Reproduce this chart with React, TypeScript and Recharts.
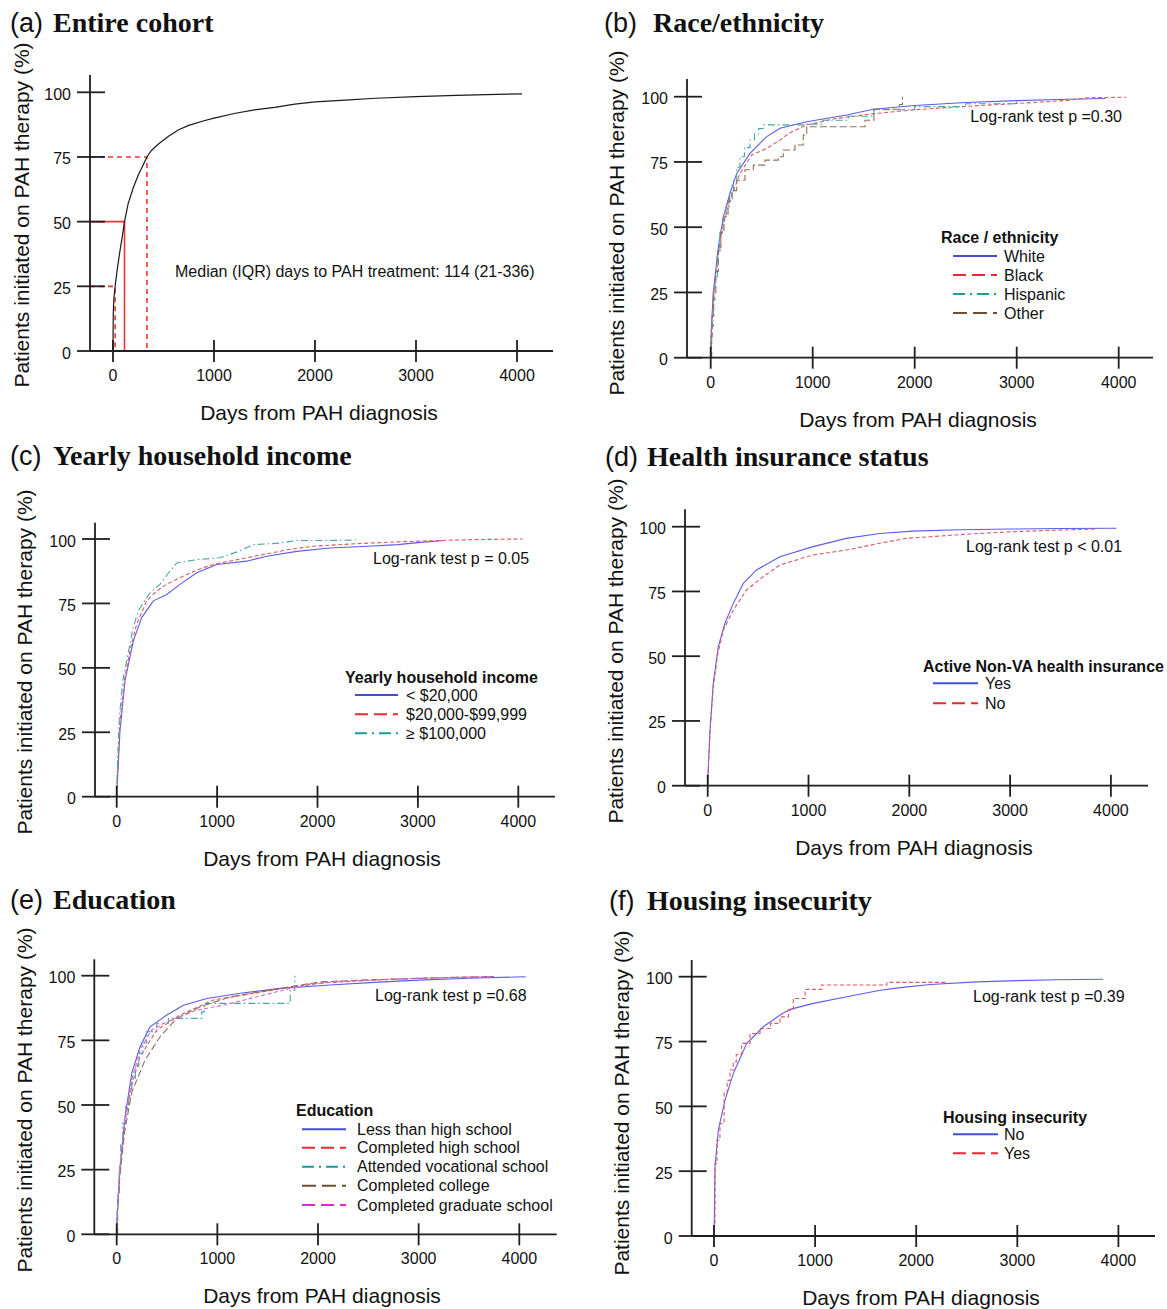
import React from 'react';
import { LineChart, Line, XAxis, YAxis } from 'recharts';

const PAGE_W = 1167;
const PAGE_H = 1309;
const SANS = "'Liberation Sans', Arial, Helvetica, sans-serif";
const SERIF = "'Liberation Serif', 'Times New Roman', serif";

// ---------- data ----------
const xTicks = [0, 1000, 2000, 3000, 4000];
const yTicks = [0, 25, 50, 75, 100];

// (a) entire cohort
const cohortDays = [0, 1, 3, 8, 21, 40, 70, 95, 114, 150, 200, 250, 300, 336, 380, 450, 550, 650, 750, 900, 1000, 1200, 1400, 1600, 1800, 2000, 2300, 2600, 3000, 3400, 3800, 4050];
const cohortPct = [0, 8, 15, 20, 25, 31, 39, 45, 50, 57, 63, 68, 72, 75, 77.5, 80, 83, 85.5, 87.2, 89, 90, 91.8, 93.2, 94.2, 95.4, 96.3, 97, 97.7, 98.3, 98.8, 99.2, 99.4];
const quartilePct = [25, 50, 75];
const quartileDays = [21, 114, 336];

// (b) race / ethnicity
const whiteDays = [0, 5, 25, 75, 124, 189, 255, 385, 549, 680, 941, 1333, 1594, 2000, 2500, 3000, 3500, 3870];
const whitePct = [0, 10, 25, 42.5, 54, 63, 70.6, 78.3, 84.7, 87.9, 90.4, 93, 95.2, 96.6, 97.8, 98.5, 99, 99.3];
const blackDays = [0, 5, 25, 75, 124, 189, 287, 402, 549, 680, 777, 941, 1235, 1600, 2000, 2500, 3000, 3500, 3700, 4070];
const blackPct = [0, 9, 23, 40, 51, 60.4, 70.6, 77.7, 80.2, 83.4, 86.2, 89.2, 91.7, 93.5, 95, 96.3, 97.4, 98.6, 99.6, 99.8];
const hispanicDays = [0, 10, 25, 40, 65, 90, 120, 150, 185, 222, 255, 287, 330, 385, 430, 470, 516, 940, 1100, 1350, 1600, 2000, 2500, 3000];
const hispanicPct = [0, 12, 22, 30, 40, 48, 54, 58, 63, 68, 73, 77, 80.5, 83.4, 85.8, 87.8, 89.2, 89.5, 91, 92.5, 95, 96.2, 97.3, 98.5];
const otherDays = [0, 5, 15, 30, 50, 75, 100, 130, 170, 210, 255, 336, 418, 532, 663, 712, 826, 908, 941, 1513, 1600, 1850, 1880];
const otherPct = [0, 8, 16, 25, 33, 41, 48, 54, 60, 64, 68, 72, 73.8, 75.7, 77, 79.6, 81.5, 85.3, 88.5, 91, 95.2, 97, 100];

// (c) yearly household income
const lowIncDays = [0, 6, 33, 83, 166, 249, 365, 498, 630, 797, 996, 1295, 1494, 1793, 2125, 2500, 2800, 3000, 3270];
const lowIncPct = [0, 5, 25.7, 45, 60.5, 69.5, 76, 78.5, 82.4, 86.9, 90.1, 91.4, 93.3, 95.2, 96.5, 97.2, 97.8, 98.6, 99.4];
const midIncDays = [0, 6, 30, 80, 132, 199, 299, 398, 500, 630, 800, 962, 1200, 1460, 1700, 1958, 2400, 2800, 3200, 3600, 4044];
const midIncPct = [0, 8, 28, 46, 56.6, 67, 76, 79.8, 82.5, 85, 88, 90.1, 92, 94, 95.8, 97.2, 98.2, 98.9, 99.4, 99.8, 100];
const highIncDays = [0, 5, 25, 60, 100, 160, 215, 332, 431, 520, 598, 797, 1029, 1200, 1361, 1627, 1793, 2125, 2380];
const highIncPct = [0, 10, 30, 45, 52.8, 65, 72.1, 79.2, 82.4, 87, 90.7, 92, 92.7, 95, 97.8, 98.4, 99.4, 99.4, 99.6];

// (d) health insurance
const insYesDays = [0, 5, 23, 55, 105, 171, 254, 353, 485, 716, 1046, 1376, 1706, 2036, 2500, 3000, 3500, 4055];
const insYesPct = [0, 6, 21.5, 39.5, 53.7, 62.7, 70.4, 78.1, 83.3, 88.4, 92.3, 95.5, 97.4, 98.3, 98.8, 99.1, 99.3, 99.4];
const insNoDays = [0, 5, 23, 55, 100, 155, 254, 386, 551, 716, 1046, 1376, 1706, 1970, 2201, 2600, 3000, 3400, 3865];
const insNoPct = [0, 6, 21, 38, 51, 60.1, 67.8, 75.6, 80.7, 85.2, 89.1, 91, 93.6, 95.5, 96.1, 97.2, 98, 98.6, 99.1];

// (e) education
const lessHsDays = [0, 5, 33, 83, 149, 232, 331, 498, 663, 896, 1227, 1625, 2122, 2600, 3000, 3500, 4063];
const lessHsPct = [0, 8, 26, 45.5, 62.2, 72.5, 80.2, 84.8, 88.6, 91.2, 93.2, 95.1, 96.4, 97.5, 98.3, 99, 99.6];
const hsDays = [0, 5, 30, 80, 150, 232, 398, 630, 961, 1459, 1956, 2400, 2800, 3300, 3747];
const hsPct = [0, 7, 24, 43, 58, 68.7, 79, 84.8, 90.6, 93.8, 97, 98, 98.7, 99.3, 99.6];
const vocDays = [0, 10, 25, 40, 60, 90, 120, 150, 185, 220, 260, 298, 398, 514, 845, 870, 1724, 1770];
const vocPct = [0, 15, 25, 35, 43, 50, 55, 60, 65, 70, 74, 78.3, 81.6, 83.5, 86, 89.3, 94.4, 100];
const collegeDays = [0, 5, 30, 80, 150, 282, 431, 597, 829, 1127, 1625, 2023, 2500, 3000, 3400, 3747];
const collegePct = [0, 7, 22, 40, 55, 67.4, 76.4, 83.5, 88, 91.8, 95.1, 97.6, 98.4, 99, 99.4, 99.7];
const gradDays = [0, 5, 30, 80, 150, 240, 348, 498, 796, 1061, 1459, 1791, 2122, 2600, 3000, 3400, 3750];
const gradPct = [0, 8, 25, 44, 60, 72, 79, 82.2, 86.7, 88.6, 92.5, 95.7, 97.6, 98.4, 99, 99.4, 99.7];

// (f) housing insecurity
const houseNoDays = [0, 3, 10, 43, 109, 191, 324, 488, 653, 752, 983, 1314, 1644, 1842, 2139, 2600, 3000, 3400, 3851];
const houseNoPct = [0, 5, 26.7, 40.9, 52.4, 62.7, 74.3, 80.7, 85.2, 87.4, 89.7, 92.3, 94.8, 95.8, 97, 98, 98.5, 98.8, 99];
const houseYesDays = [0, 3, 10, 30, 59, 100, 130, 158, 190, 220, 274, 356, 455, 560, 653, 719, 736, 785, 901, 1049, 1066, 1710, 2304];
const houseYesPct = [0, 5, 28, 37, 43.4, 55, 60, 64, 67, 70, 74.3, 78.1, 80, 82, 84.5, 84.5, 87.1, 91.6, 95.1, 95.1, 96.8, 97.8, 97.8];

// ---------- styles ----------
const C = {
  blue: { plot: '#5c5ce8', legend: '#3f4fd8' },
  red: { plot: '#e05662', legend: '#ea2a30' },
  teal: { plot: '#45a89c', legend: '#1d9c92' },
  brown: { plot: '#8e7058', legend: '#6e4c30' },
  magenta: { plot: '#cf6ae0', legend: '#e626d6' },
};
const DASH = {
  solid: { plot: undefined as string | undefined, legend: undefined as string | undefined },
  dashed: { plot: '4 2.5', legend: '13 6' },
  dashdot: { plot: '7 3 1.5 3', legend: '12 5 2 5' },
  long: { plot: '7 3', legend: '14 6' },
};

type Series = {
  name: string;
  days: number[];
  pct: number[];
  color: { plot: string; legend: string };
  dash: { plot?: string; legend?: string };
  step?: boolean;
};

type Panel = {
  key: string;
  letter: string;
  title: string;
  titleX: number;
  letterX: number;
  titleY: number;
  axisX: number;
  rightX: number;
  topY: number;
  zeroY: number;
  x0px: number;
  kx: number;
  y100px: number;
  yLabelX: number;
  yLabelY: number;
  xLabelX: number;
  xLabelY: number;
  note: string;
  noteX: number;
  noteY: number;
  noteAnchor: 'start' | 'end';
  legendTitle?: string;
  legendX?: number;
  legendTitleY?: number;
  legendRows?: number[];
  legendLine?: [number, number];
  legendTextX?: number;
  series: Series[];
};

const panels: Panel[] = [
  {
    key: 'a', letter: '(a)', title: 'Entire cohort', letterX: 10, titleX: 53, titleY: 32,
    axisX: 90, rightX: 553, topY: 75, zeroY: 351, x0px: 113, kx: 0.101, y100px: 92.3,
    yLabelX: 29, yLabelY: 215, xLabelX: 319, xLabelY: 420,
    note: 'Median (IQR) days to PAH treatment: 114 (21-336)', noteX: 175, noteY: 277, noteAnchor: 'start',
    series: [
      { name: 'Entire cohort', days: cohortDays, pct: cohortPct, color: { plot: '#1a1a1a', legend: '#1a1a1a' }, dash: DASH.solid },
    ],
  },
  {
    key: 'b', letter: '(b)', title: 'Race/ethnicity', letterX: 604, titleX: 653, titleY: 32,
    axisX: 687, rightX: 1153, topY: 79, zeroY: 357.7, x0px: 710.7, kx: 0.102, y100px: 96.7,
    yLabelX: 624, yLabelY: 223, xLabelX: 918, xLabelY: 427,
    note: 'Log-rank test p =0.30', noteX: 1122, noteY: 121.5, noteAnchor: 'end',
    legendTitle: 'Race / ethnicity', legendX: 941, legendTitleY: 243, legendRows: [256, 275, 294, 313], legendLine: [953, 997], legendTextX: 1004,
    series: [
      { name: 'White', days: whiteDays, pct: whitePct, color: C.blue, dash: DASH.solid },
      { name: 'Black', days: blackDays, pct: blackPct, color: C.red, dash: DASH.dashed },
      { name: 'Hispanic', days: hispanicDays, pct: hispanicPct, color: C.teal, dash: DASH.dashdot, step: true },
      { name: 'Other', days: otherDays, pct: otherPct, color: C.brown, dash: DASH.long, step: true },
    ],
  },
  {
    key: 'c', letter: '(c)', title: 'Yearly household income', letterX: 10, titleX: 53, titleY: 465,
    axisX: 95, rightX: 555, topY: 522.7, zeroY: 796.7, x0px: 116.7, kx: 0.1004, y100px: 539,
    yLabelX: 32, yLabelY: 662, xLabelX: 322, xLabelY: 866,
    note: 'Log-rank test p = 0.05', noteX: 373, noteY: 563.5, noteAnchor: 'start',
    legendTitle: 'Yearly household income', legendX: 345, legendTitleY: 683, legendRows: [695, 714.3, 733.3], legendLine: [355, 398], legendTextX: 406,
    series: [
      { name: '< $20,000', days: lowIncDays, pct: lowIncPct, color: C.blue, dash: DASH.solid },
      { name: '$20,000-$99,999', days: midIncDays, pct: midIncPct, color: C.red, dash: DASH.dashed },
      { name: '\u2265 $100,000', days: highIncDays, pct: highIncPct, color: C.teal, dash: DASH.dashdot },
    ],
  },
  {
    key: 'd', letter: '(d)', title: 'Health insurance status', letterX: 605, titleX: 647, titleY: 466,
    axisX: 685, rightX: 1148, topY: 509.3, zeroY: 785.7, x0px: 707.7, kx: 0.1008, y100px: 526.7,
    yLabelX: 623, yLabelY: 651, xLabelX: 914, xLabelY: 855,
    note: 'Log-rank test p < 0.01', noteX: 966, noteY: 552, noteAnchor: 'start',
    legendTitle: 'Active Non-VA health insurance', legendX: 923, legendTitleY: 671.5, legendRows: [683.3, 703.3], legendLine: [933, 978], legendTextX: 985,
    series: [
      { name: 'Yes', days: insYesDays, pct: insYesPct, color: C.blue, dash: DASH.solid },
      { name: 'No', days: insNoDays, pct: insNoPct, color: C.red, dash: DASH.dashed },
    ],
  },
  {
    key: 'e', letter: '(e)', title: 'Education', letterX: 10, titleX: 53, titleY: 909,
    axisX: 94.3, rightX: 556.7, topY: 959.3, zeroY: 1234.3, x0px: 116.7, kx: 0.10065, y100px: 975.7,
    yLabelX: 32, yLabelY: 1100, xLabelX: 322, xLabelY: 1303,
    note: 'Log-rank test p =0.68', noteX: 375, noteY: 1000.5, noteAnchor: 'start',
    legendTitle: 'Education', legendX: 296, legendTitleY: 1115.5, legendRows: [1129.3, 1147.7, 1166.7, 1185.7, 1205], legendLine: [302, 346], legendTextX: 357,
    series: [
      { name: 'Less than high school', days: lessHsDays, pct: lessHsPct, color: C.blue, dash: DASH.solid },
      { name: 'Completed high school', days: hsDays, pct: hsPct, color: C.red, dash: DASH.dashed },
      { name: 'Attended vocational school', days: vocDays, pct: vocPct, color: C.teal, dash: DASH.dashdot, step: true },
      { name: 'Completed college', days: collegeDays, pct: collegePct, color: C.brown, dash: DASH.long },
      { name: 'Completed graduate school', days: gradDays, pct: gradPct, color: C.magenta, dash: DASH.dashed },
    ],
  },
  {
    key: 'f', letter: '(f)', title: 'Housing insecurity', letterX: 609, titleX: 647, titleY: 910,
    axisX: 691.7, rightX: 1155, topY: 960, zeroY: 1236, x0px: 714, kx: 0.1011, y100px: 976.7,
    yLabelX: 629, yLabelY: 1103, xLabelX: 921, xLabelY: 1305,
    note: 'Log-rank test p =0.39', noteX: 973, noteY: 1002, noteAnchor: 'start',
    legendTitle: 'Housing insecurity', legendX: 943, legendTitleY: 1122.5, legendRows: [1134.3, 1153.3], legendLine: [953, 998], legendTextX: 1004,
    series: [
      { name: 'No', days: houseNoDays, pct: houseNoPct, color: C.blue, dash: DASH.solid },
      { name: 'Yes', days: houseYesDays, pct: houseYesPct, color: C.red, dash: DASH.dashed, step: true },
    ],
  },
];

const AXIS_COLOR = '#1f1f1f';
const AXIS_W = 1.8;

const XTick = (props: any) => {
  const { x, y, payload } = props;
  return (
    <g>
      <line x1={x} x2={x} y1={y - 11} y2={y + 11} stroke={AXIS_COLOR} strokeWidth={AXIS_W} />
      <text x={x} y={y + 30} textAnchor="middle" fontSize={16} fontFamily={SANS} fill="#111">
        {payload.value}
      </text>
    </g>
  );
};

const YTick = (props: any) => {
  const { x, y, payload } = props;
  return (
    <g>
      <line x1={x - 13} x2={x + 15} y1={y} y2={y} stroke={AXIS_COLOR} strokeWidth={AXIS_W} />
      <text x={x - 19} y={y + 7.5} textAnchor="end" fontSize={16} fontFamily={SANS} fill="#111">
        {payload.value}
      </text>
    </g>
  );
};

const pts = (days: number[], pct: number[]) => days.map((d, i) => ({ x: d, y: pct[i] }));

function PanelChart({ p }: { p: Panel }) {
  const xMin = (p.axisX - p.x0px) / p.kx;
  const xMax = (p.rightX - p.x0px) / p.kx;
  const ky = (p.zeroY - p.y100px) / 100;
  const yMax = (p.zeroY - p.topY) / ky;
  // axis boxes are 1px wide/high; the margins absorb that pixel
  const margin = { left: p.axisX - 1, right: PAGE_W - p.rightX, top: p.topY, bottom: PAGE_H - p.zeroY - 1 };

  const quartileLines =
    p.key === 'a'
      ? quartilePct.map((q, i) => ({
          key: `q${i}`,
          solid: q === 50,
          data: [
            { x: xMin, y: q },
            { x: quartileDays[i], y: q },
            { x: quartileDays[i], y: 0 },
          ],
        }))
      : [];

  return (
    <div style={{ position: 'absolute', left: 0, top: 0, width: PAGE_W, height: PAGE_H }}>
      <LineChart width={PAGE_W} height={PAGE_H} margin={margin}>
        {quartileLines.map((q) => (
          <Line
            key={q.key}
            data={q.data}
            dataKey="y"
            type="linear"
            stroke="#f03535"
            strokeWidth={1.6}
            strokeDasharray={q.solid ? undefined : '5 4'}
            dot={false}
            activeDot={false}
            isAnimationActive={false}
            legendType="none"
          />
        ))}
        <XAxis
          type="number"
          dataKey="x"
          domain={[xMin, xMax]}
          ticks={xTicks}
          interval={0}
          height={1}
          tickSize={0}
          tickMargin={0}
          tickLine={false}
          axisLine={{ stroke: AXIS_COLOR, strokeWidth: AXIS_W }}
          tick={XTick}
          allowDataOverflow
        />
        <YAxis
          type="number"
          dataKey="y"
          domain={[0, yMax]}
          ticks={yTicks}
          interval={0}
          width={1}
          tickSize={0}
          tickMargin={0}
          tickLine={false}
          axisLine={{ stroke: AXIS_COLOR, strokeWidth: AXIS_W }}
          tick={YTick}
          allowDataOverflow
        />
        {p.series.map((s) => (
          <Line
            key={s.name}
            name={s.name}
            data={pts(s.days, s.pct)}
            dataKey="y"
            type={s.step ? 'stepAfter' : 'linear'}
            stroke={s.color.plot}
            strokeWidth={p.key === 'a' ? 1.2 : 1.1}
            strokeDasharray={s.dash.plot}
            dot={false}
            activeDot={false}
            isAnimationActive={false}
          />
        ))}
      </LineChart>
    </div>
  );
}

function Overlay() {
  return (
    <svg
      width={PAGE_W}
      height={PAGE_H}
      style={{ position: 'absolute', left: 0, top: 0, pointerEvents: 'none' }}
    >
      {panels.map((p) => (
        <g key={p.key}>
          <text x={p.letterX} y={p.titleY} fontSize={27} fontFamily={SANS} fill="#111">
            {p.letter}
          </text>
          <text x={p.titleX} y={p.titleY} fontSize={28} fontWeight="bold" fontFamily={SERIF} fill="#111">
            {p.title}
          </text>
          <text
            x={p.yLabelX}
            y={p.yLabelY}
            transform={`rotate(-90 ${p.yLabelX} ${p.yLabelY})`}
            textAnchor="middle"
            fontSize={21}
            fontFamily={SANS}
            fill="#111"
          >
            Patients initiated on PAH therapy (%)
          </text>
          <text x={p.xLabelX} y={p.xLabelY} textAnchor="middle" fontSize={21} fontFamily={SANS} fill="#111">
            Days from PAH diagnosis
          </text>
          <text x={p.noteX} y={p.noteY} textAnchor={p.noteAnchor} fontSize={16} fontFamily={SANS} fill="#111">
            {p.note}
          </text>
          {p.legendTitle && (
            <g>
              <text x={p.legendX} y={p.legendTitleY} fontSize={16} fontWeight="bold" fontFamily={SANS} fill="#111">
                {p.legendTitle}
              </text>
              {p.series.map((s, i) => {
                const ry = p.legendRows![i];
                return (
                  <g key={s.name}>
                    <line
                      x1={p.legendLine![0]}
                      x2={p.legendLine![1]}
                      y1={ry}
                      y2={ry}
                      stroke={s.color.legend}
                      strokeWidth={2}
                      strokeDasharray={s.dash.legend}
                    />
                    <text x={p.legendTextX} y={ry + 5.5} fontSize={16} fontFamily={SANS} fill="#111">
                      {s.name}
                    </text>
                  </g>
                );
              })}
            </g>
          )}
        </g>
      ))}
    </svg>
  );
}

export default function App() {
  return (
    <div
      style={{
        position: 'absolute',
        left: 0,
        top: 0,
        width: PAGE_W,
        height: PAGE_H,
        background: '#ffffff',
        overflow: 'hidden',
      }}
    >
      {panels.map((p) => (
        <PanelChart key={p.key} p={p} />
      ))}
      <Overlay />
    </div>
  );
}
